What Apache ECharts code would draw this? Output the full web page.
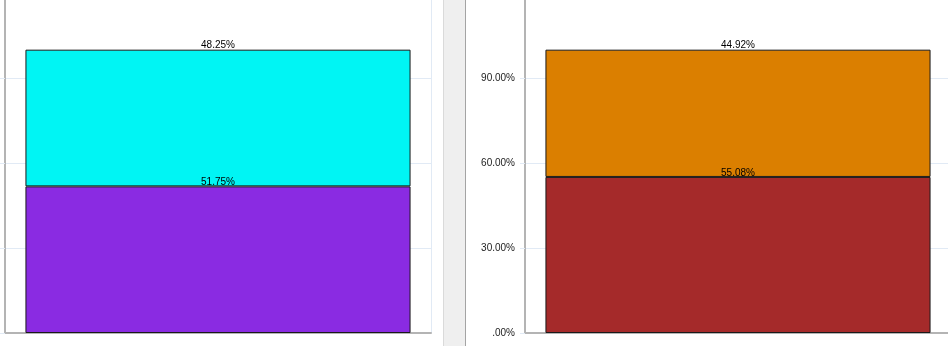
<!DOCTYPE html>
<html>
<head>
<meta charset="utf-8">
<script src="https://cdn.jsdelivr.net/npm/echarts@6/dist/echarts.min.js"></script>
<style>html,body{margin:0;padding:0;background:#fff;}#c{width:948px;height:346px;}</style>
</head>
<body>
<div id="c"></div>
<script>
const categories = ['A'];
const leftBottom = [51.75];
const leftTop = [48.25];
const rightBottom = [55.08];
const rightTop = [44.92];
const yTicks = [0, 30, 60, 90];

const chart = echarts.init(document.getElementById('c'), null, {renderer: 'canvas'});
const gridColor = '#E1EAF5';
function yAxis(gi) {
  return {
    type: 'value', gridIndex: gi, min: 0, max: 120, interval: 30,
    axisLine: {show: true, lineStyle: {color: '#B4B4B4', width: 2}},
    axisTick: {show: true, length: 5, lineStyle: {color: gridColor}},
    splitLine: {show: true, lineStyle: {color: gridColor, width: 1}},
    axisLabel: {
      margin: 10, color: '#222', fontSize: 10, fontFamily: 'Liberation Sans, Arial',
      formatter: v => yTicks.indexOf(v) < 0 ? '' : (v === 0 ? '.00%' : v.toFixed(2) + '%')
    }
  };
}
function xAxis(gi) {
  return {
    type: 'category', gridIndex: gi, data: categories,
    axisLine: {show: true, lineStyle: {color: '#B4B4B4', width: 2}},
    axisTick: {show: false}, axisLabel: {show: false},
    splitLine: {show: true, lineStyle: {color: gridColor, width: 1}}
  };
}
const lbl = {
  show: true, position: 'top', distance: -1, color: '#000', fontSize: 10,
  fontFamily: 'Liberation Sans, Arial', formatter: p => p.value.toFixed(2) + '%'
};
function bar(gi, stack, data, color) {
  return {
    type: 'bar', xAxisIndex: gi, yAxisIndex: gi, stack: stack, data: data,
    barCategoryGap: '9.6%', label: lbl,
    itemStyle: {color: color, borderColor: '#1a1a1a', borderWidth: 1}
  };
}
chart.setOption({
  animation: false,
  grid: [
    {left: 5, width: 426, top: -7, bottom: 13, containLabel: false, outerBoundsMode: 'none'},
    {left: 525, width: 426, top: -7, bottom: 13, containLabel: false, outerBoundsMode: 'none'}
  ],
  xAxis: [xAxis(0), xAxis(1)],
  yAxis: [yAxis(0), yAxis(1)],
  series: [
    bar(0, 'l', leftBottom, '#8A2BE2'),
    bar(0, 'l', leftTop, '#00F5F4'),
    bar(1, 'r', rightBottom, '#A52A2A'),
    bar(1, 'r', rightTop, '#DB7F00')
  ],
  graphic: [
    {type: 'rect', shape: {x: 443, y: 0, width: 22, height: 346}, style: {fill: '#EFEFEF'}, z: 100},
    {type: 'line', shape: {x1: 443.5, y1: 0, x2: 443.5, y2: 346}, style: {stroke: '#DADADA', lineWidth: 1}, z: 101},
    {type: 'line', shape: {x1: 465.5, y1: 0, x2: 465.5, y2: 346}, style: {stroke: '#A4A4A4', lineWidth: 1}, z: 101}
  ]
});
</script>
</body>
</html>
